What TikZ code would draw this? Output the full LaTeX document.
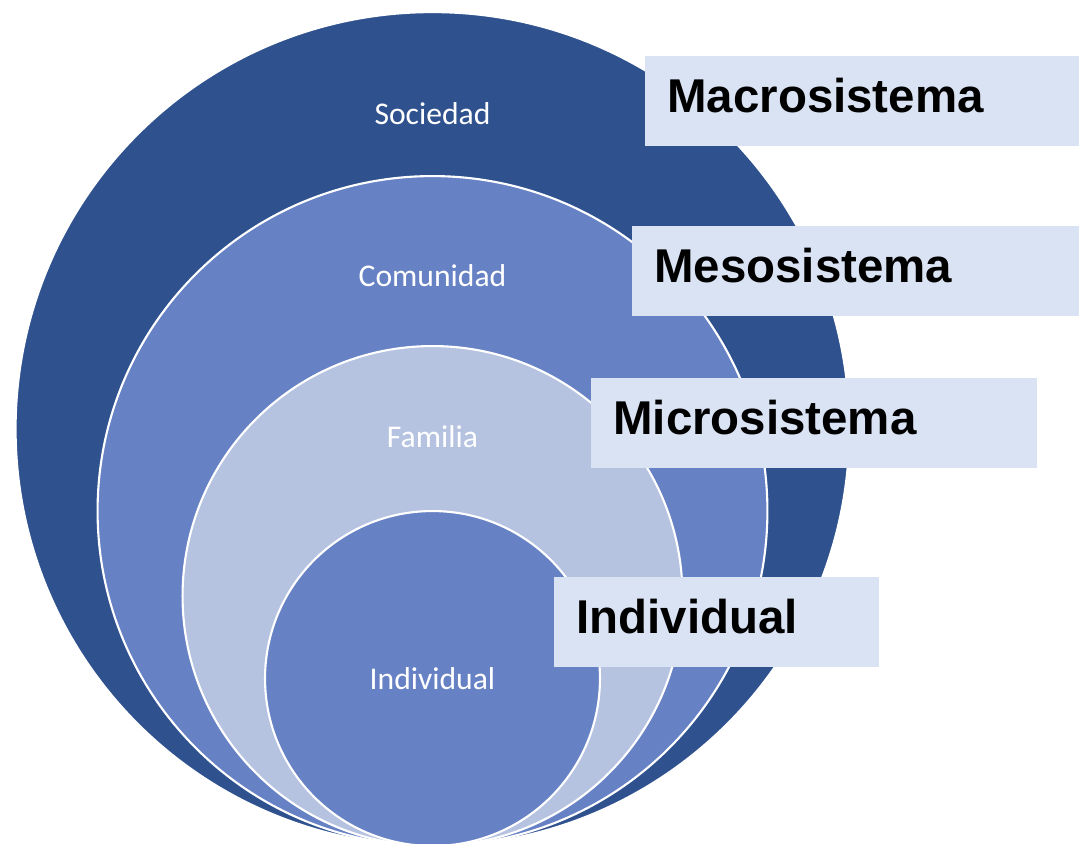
\documentclass[tikz,border=0pt]{standalone}
\usepackage{fontspec}
\setmainfont{Carlito}
\newfontfamily\tagfont{Liberation Sans}
\usetikzlibrary{positioning}

\definecolor{deepblue}{HTML}{2F528F}
\definecolor{midblue}{HTML}{6782C4}
\definecolor{lightblue}{HTML}{B5C3E1}
\definecolor{paleblue}{HTML}{DAE3F3}

\begin{document}
\begin{tikzpicture}[x=0.02cm,y=-0.02cm,
                ring/.style={circle,draw=white,line width=1.2pt,inner sep=0pt},
                level/.style={anchor=base,text=white,font=\fontsize{18}{22}\selectfont},
                tag/.style={anchor=north west,fill=paleblue,minimum height=1.8cm,
                  inner xsep=0.44cm,inner ysep=0pt,align=left,
                  text height=0.7cm,text depth=0.26cm,
                  font=\tagfont\bfseries\fontsize{27}{32}\selectfont}]

  \useasboundingbox (0,0) rectangle (1079,843);
  \clip (0,0) rectangle (1079,843);

  % nested circles, all touching at the bottom
  \node[ring,fill=deepblue,minimum size=16.68cm] (sociedad) at (432.5,429) {};
  \node[ring,fill=midblue,minimum size=13.4cm] (comunidad) at (432.5,511) {};
  \node[ring,fill=lightblue,minimum size=10cm] (familia) at (432.5,596) {};
  \node[ring,fill=midblue,minimum size=6.7cm] (individuo) at (432.5,678.5) {};

  \node[level] (l1) at (432.5,124) {Sociedad};
  \node[level] (l2) at (432.5,286) {Comunidad};
  \node[level] (l3) at (432.5,447) {Familia};
  \node[level] (l4) at (432.5,689) {Individual};

  % labels on the right
  \node[tag,text width=7.8cm] (macro) at (645,56) {Macrosistema};
  \node[tag,text width=8.06cm] (meso) at (632,226) {Mesosistema};
  \node[tag,text width=8.04cm] (micro) at (591,378) {Microsistema};
  \node[tag,text width=5.62cm] (indiv) at (554,577) {Individual};

\end{tikzpicture}
\end{document}
